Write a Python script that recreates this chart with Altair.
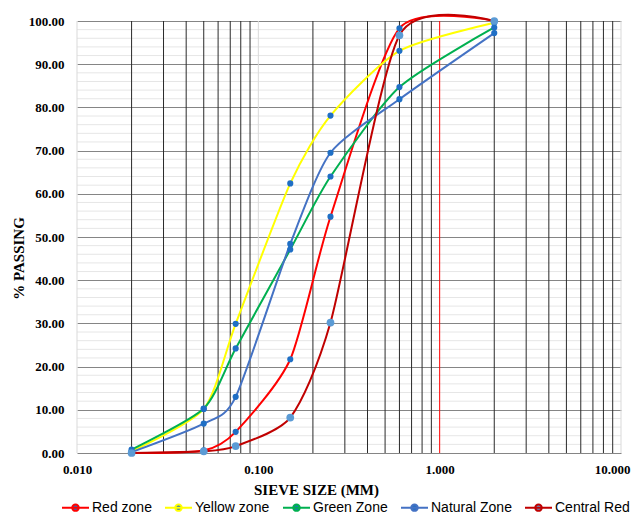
import altair as alt
import pandas as pd

sizes = [0.02, 0.05, 0.075, 0.15, 0.25, 0.6, 2.0]
series_names = ["Red zone", "Yellow zone", "Green Zone", "Natural Zone", "Central Red"]
red_zone = [0.0, 0.6, 4.9, 21.7, 54.7, 98.3, 100.0]
yellow_zone = [0.4, 10.2, 29.9, 62.4, 78.1, 93.1, 99.6]
green_zone = [0.8, 10.3, 24.2, 47.1, 64.0, 84.7, 98.5]
natural_zone = [0.2, 6.8, 13.0, 48.4, 69.5, 81.9, 97.2]
central_red = [0.0, 0.4, 1.6, 8.2, 30.2, 96.7, 100.0]

line_colors = ["#FF0000", "#FFFF00", "#00B050", "#4472C4", "#C00000"]
point_colors = ["#1F6FC5", "#1F6FC5", "#1F6FC5", "#1F6FC5", "#5B9BD5"]

x_ticks = [0.01, 0.1, 1, 10]
y_ticks = [0, 10, 20, 30, 40, 50, 60, 70, 80, 90, 100]
minor_x = [0.02, 0.03, 0.04, 0.05, 0.06, 0.07, 0.08, 0.09,
           0.2, 0.3, 0.4, 0.5, 0.6, 0.7, 0.8, 0.9,
           2, 3, 4, 5, 6, 7, 8, 9]
light_x = [0.01, 0.1, 10]
red_x = [1]
minor_y = [2, 4, 6, 8, 12, 14, 16, 18, 22, 24, 26, 28, 32, 34, 36, 38,
           42, 44, 46, 48, 52, 54, 56, 58, 62, 64, 66, 68, 72, 74, 76, 78,
           82, 84, 86, 88, 92, 94, 96, 98]

all_values = [red_zone, yellow_zone, green_zone, natural_zone, central_red]
rows = []
for name, vals in zip(series_names, all_values):
    for s, v in zip(sizes, vals):
        rows.append({"size": s, "value": v, "series": name})
df = pd.DataFrame(rows)

serif = "Liberation Serif"

x_scale = alt.Scale(type="log", domain=[0.01, 10], nice=False)
y_scale = alt.Scale(domain=[0, 100], nice=False)

x_axis = alt.Axis(values=x_ticks, format=".3f", grid=False, ticks=False, domain=False,
                  labelFont=serif, labelFontWeight="bold", labelFontSize=13,
                  labelPadding=10, labelColor="#000000", labelFlush=False,
                  labelOverlap=False,
                  labelOffset={"condition": {"test": "datum.value >= 10", "value": -9}, "value": 0},
                  title="SIEVE SIZE (MM)", titleFont=serif, titleFontWeight="bold",
                  titleFontSize=15, titleColor="#000000", titleX=239, titleY=36,
                  titleBaseline="middle", titleAlign="center")
y_axis = alt.Axis(values=y_ticks, format=".2f", grid=True, gridColor="#858585",
                  gridWidth=1, ticks=False, domain=False,
                  labelFont=serif, labelFontWeight="bold", labelFontSize=13,
                  labelPadding=13, labelColor="#000000", labelFlush=False,
                  labelOverlap=False,
                  title="%  PASSING", titleFont=serif, titleFontWeight="bold",
                  titleFontSize=15, titleColor="#000000", titleX=-59, titleY=237,
                  titleAngle=270, titleAlign="center", titleBaseline="middle")

X = alt.X("size:Q", scale=x_scale, axis=x_axis)
Y = alt.Y("value:Q", scale=y_scale, axis=y_axis)

sym = "M-1,0L1,0M-0.24,0A0.24,0.24,0,1,0,0.24,0A0.24,0.24,0,1,0,-0.24,0Z"
legend = alt.Legend(title=None, orient="none", legendX=-16, legendY=472,
                    direction="horizontal", columns=5, columnPadding=9,
                    symbolType=sym, symbolSize=729, symbolStrokeWidth=2,
                    labelFont="Liberation Sans", labelFontSize=14, labelColor="#000000",
                    labelOffset=2, padding=0)

fill_scale = alt.Scale(domain=series_names, range=point_colors)

minor_y_layer = alt.Chart(pd.DataFrame({"value": minor_y})).mark_rule(
    color="#e6e6e6", strokeWidth=1).encode(y=alt.Y("value:Q", scale=y_scale))
minor_x_layer = alt.Chart(pd.DataFrame({"size": minor_x})).mark_rule(
    color="#2a2a2a", strokeWidth=1).encode(x=alt.X("size:Q", scale=x_scale))
light_x_layer = alt.Chart(pd.DataFrame({"size": light_x})).mark_rule(
    color="#d9d9d9", strokeWidth=1).encode(x=alt.X("size:Q", scale=x_scale))
red_x_layer = alt.Chart(pd.DataFrame({"size": red_x})).mark_rule(
    color="#FF0000", strokeWidth=1).encode(x=alt.X("size:Q", scale=x_scale))

lines = alt.Chart(df).mark_line(interpolate="cardinal", tension=0.3, strokeWidth=2).encode(
    x=X, y=Y,
    stroke=alt.Stroke("series:N", scale=alt.Scale(domain=series_names, range=line_colors),
                      legend=legend),
)
points_main = alt.Chart(df).transform_filter(
    alt.datum.series != "Central Red"
).mark_point(filled=True, shape="circle", opacity=1, size=38).encode(
    x=X, y=Y,
    fill=alt.Fill("series:N", scale=fill_scale, legend=legend),
)
points_central = alt.Chart(df).transform_filter(
    alt.datum.series == "Central Red"
).mark_point(filled=True, shape="circle", opacity=1, size=60).encode(
    x=X, y=Y,
    fill=alt.Fill("series:N", scale=fill_scale, legend=legend),
)

chart = alt.layer(minor_y_layer, minor_x_layer, light_x_layer, red_x_layer,
                  lines, points_main, points_central).properties(
    width=544, height=432,
    padding={"left": 69, "top": 13, "right": 10, "bottom": 61},
    autosize=alt.AutoSizeParams(type="none"),
    background="white",
).configure_view(strokeWidth=0)

chart.save("out.html", embed_options={"renderer": "svg", "actions": False})
